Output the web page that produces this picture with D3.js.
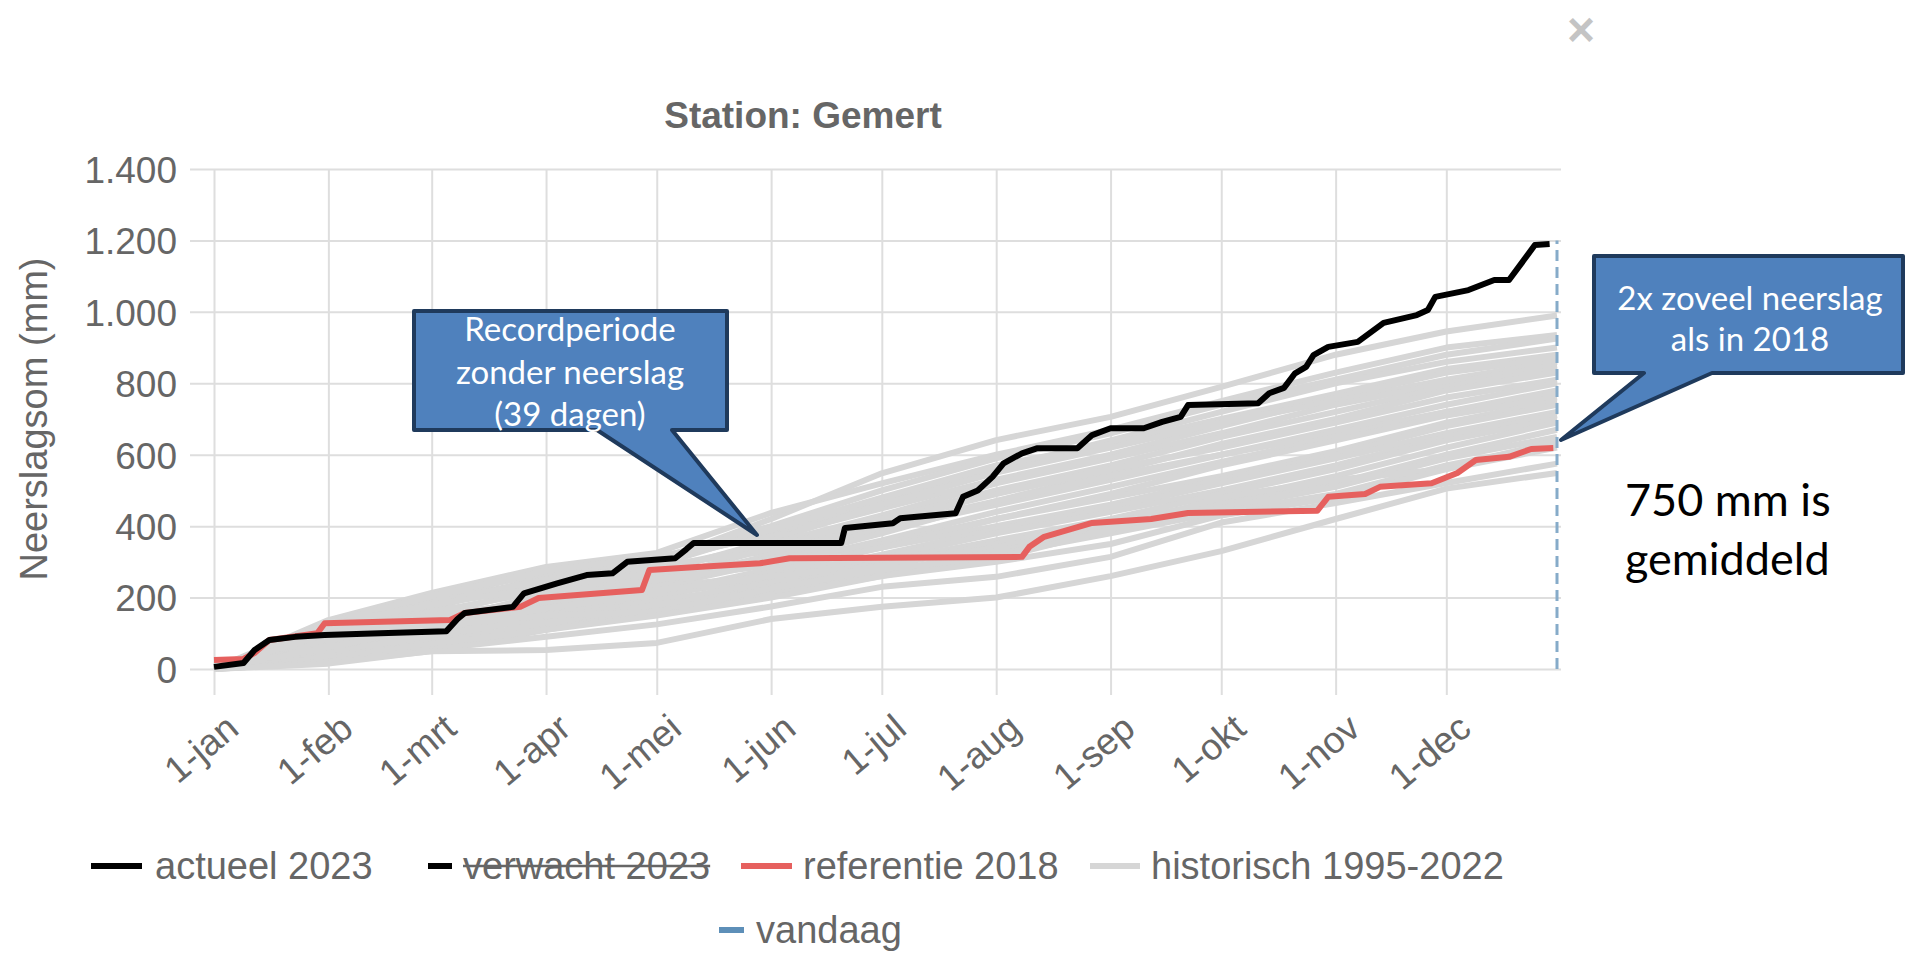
<!DOCTYPE html>
<html lang="nl">
<head>
<meta charset="UTF-8">
<title>Neerslagsom Gemert</title>
<script src="https://d3js.org/d3.v7.min.js"></script>
<style>
  body { margin: 0; background: #ffffff; }
  svg { display: block; }
  .axis text { font-family: "Liberation Sans", Arial, sans-serif; fill: #666; }
  .axis line { stroke: #dedede; stroke-width: 2; }
</style>
</head>
<body>
<svg id="chart" width="1905" height="955"></svg>
<script>
// ---- data ----
const maandDagen = [0, 31, 59, 90, 120, 151, 181, 212, 243, 273, 304, 334];
const maandLabels = ["1-jan", "1-feb", "1-mrt", "1-apr", "1-mei", "1-jun",
                     "1-jul", "1-aug", "1-sep", "1-okt", "1-nov", "1-dec"];
const yTicks = [0, 200, 400, 600, 800, 1000, 1200, 1400];

// [dag van het jaar, neerslagsom mm]
const actueel2023 = [
  [0,6],[8,17],[11,53],[15,81],[22,90],[30,95],[45,100],[63,106],[66,140],[68,157],
  [81,174],[84,212],[93,240],[101,263],[108,268],[112,300],[125,310],[128,335],[130,353],
  [170,353],[171,395],[184,408],[186,422],[201,436],[203,482],[207,500],[211,538],
  [214,576],[219,604],[223,618],[234,618],[238,655],[243,674],[252,674],[257,692],
  [262,706],[264,739],[283,744],[286,772],[290,787],[293,828],[296,846],[298,879],
  [302,902],[310,916],[317,969],[326,991],[329,1005],[331,1042],[340,1061],[347,1089],
  [351,1089],[355,1145],[358,1187],[362,1190]
];

const referentie2018 = [
  [0,25],[8,28],[11,45],[15,81],[28,100],[30,128],[64,137],[68,157],[83,174],[88,199],
  [116,221],[118,277],[132,286],[148,296],[156,310],[219,314],[221,342],[225,370],
  [238,409],[254,420],[264,437],[299,443],[302,482],[312,490],[316,510],[330,520],
  [337,549],[342,585],[351,594],[357,616],[363,619]
];

// historisch 1995-2022: waarden op 1 jan, 1 feb, ..., 1 dec, 31 dec
const historischDagen = [0, 31, 59, 90, 120, 151, 181, 212, 243, 273, 304, 334, 364];
const historisch = [
  [0,120,190,250,300,420,548,641,706,790,880,945,990],
  [0,137,213,286,325,437,520,600,670,750,830,900,935],
  [0, 95,170,260,310,400,500,590,660,740,810,880,925],
  [0,110,200,270,300,380,470,560,640,720,800,860,900],
  [0, 80,150,230,290,390,480,570,630,700,770,840,880],
  [0,130,205,275,315,370,450,530,600,680,760,830,870],
  [0, 60,130,210,270,360,460,550,620,690,750,810,860],
  [0,100,180,240,280,350,430,520,590,660,740,800,850],
  [0, 70,120,200,250,340,420,500,570,650,720,790,840],
  [0,115,185,250,290,330,400,470,550,630,700,780,830],
  [0, 50,110,180,240,320,410,490,560,620,690,760,810],
  [0, 90,160,220,260,310,390,460,530,600,670,740,800],
  [0, 40,100,170,230,300,380,470,540,600,660,720,780],
  [0, 75,140,200,250,290,360,440,510,580,650,720,770],
  [0,125,180,230,270,300,350,420,490,570,640,710,760],
  [0, 55, 90,160,210,280,340,420,480,540,610,690,750],
  [0, 30, 80,150,200,270,340,400,460,530,600,680,740],
  [0, 85,130,190,230,260,320,390,450,520,590,660,720],
  [0, 65,110,170,210,250,310,380,440,500,570,650,710],
  [0, 45, 95,140,190,240,300,360,420,490,560,640,700],
  [0,100,150,190,220,260,290,350,410,470,540,620,690],
  [0, 25, 60,120,170,230,290,340,400,460,520,600,670],
  [0, 35, 70,130,180,220,270,330,390,450,510,590,650],
  [0, 20, 50,110,160,210,260,320,380,440,490,570,632],
  [0, 60,120,150,160,225,280,310,390,480,530,560,640],
  [0, 30, 70,110,150,200,260,300,350,430,480,560,620],
  [0, 20, 55, 90,125,175,230,258,314,410,465,521,575],
  [0, 15, 50, 53, 73,140,174,200,260,330,420,505,549]
];

const vandaag = [[364, 0], [364, 1200]];

const legendItems = ["actueel 2023", "verwacht 2023", "referentie 2018", "historisch 1995-2022", "vandaag"];

// ---- chart ----
const svg = d3.select("#chart");
const font = "'Liberation Sans', Arial, sans-serif";
const calloutFont = "Lato, 'Open Sans', sans-serif";

const x = d3.scaleLinear().domain([0, 364]).range([214, 1557]);
const y = d3.scaleLinear().domain([0, 1400]).range([669, 169]);

const nl = d3.formatLocale({ decimal: ",", thousands: ".", grouping: [3], currency: ["", ""] });
const fmt = nl.format(",");

// y grid + labels
const yAxis = svg.append("g")
  .attr("class", "axis")
  .attr("transform", "translate(190,0)")
  .call(d3.axisLeft(y).tickValues(yTicks).tickFormat(fmt).tickSize(-(1561 - 190)).tickPadding(13));
yAxis.select(".domain").remove();
yAxis.selectAll("text").style("font-size", "37px").attr("dy", "0.36em");

// x grid + labels
const xAxis = svg.append("g")
  .attr("class", "axis")
  .attr("transform", "translate(0,695)")
  .call(d3.axisBottom(x).tickValues(maandDagen).tickSize(-(695 - 169))
    .tickFormat((d, i) => maandLabels[i]));
xAxis.select(".domain").remove();
xAxis.selectAll("text")
  .style("font-size", "37px")
  .attr("text-anchor", "end")
  .attr("x", 0).attr("y", 0)
  .attr("dy", "0.35em")
  .attr("transform", "translate(18,27) rotate(-40)");

// titles
svg.append("text")
  .attr("x", 803).attr("y", 128)
  .attr("text-anchor", "middle")
  .style("font-family", font).style("font-weight", "bold")
  .style("font-size", "37px").style("fill", "#666")
  .text("Station: Gemert");

svg.append("text")
  .attr("transform", "translate(47,419) rotate(-90)")
  .attr("text-anchor", "middle")
  .style("font-family", font).style("font-size", "38px").style("fill", "#666")
  .text("Neerslagsom (mm)");

svg.append("text")
  .attr("x", 1581).attr("y", 46)
  .attr("text-anchor", "middle")
  .style("font-family", font).style("font-weight", "bold")
  .style("font-size", "48px").style("fill", "#c4c4c4")
  .text("×");

// lines
const line = d3.line().x(d => x(d[0])).y(d => y(d[1]));

svg.append("g").selectAll("path")
  .data(historisch)
  .join("path")
  .attr("d", vals => line(vals.map((v, i) => [historischDagen[i], v])))
  .attr("fill", "none")
  .attr("stroke", "#d6d6d6")
  .attr("stroke-width", 6)
  .attr("stroke-linejoin", "round");

svg.append("path")
  .attr("d", line(vandaag))
  .attr("fill", "none")
  .attr("stroke", "#86abc9")
  .attr("stroke-width", 3)
  .attr("stroke-dasharray", "11,6");

svg.append("path")
  .attr("d", line(referentie2018))
  .attr("fill", "none")
  .attr("stroke", "#e6605e")
  .attr("stroke-width", 6)
  .attr("stroke-linejoin", "round");

svg.append("path")
  .attr("d", line(actueel2023))
  .attr("fill", "none")
  .attr("stroke", "#000")
  .attr("stroke-width", 6)
  .attr("stroke-linejoin", "round");

// legend
const legend = [
  { label: legendItems[0], color: "#000",    x0: 91,   x1: 142,  tx: 155,  y: 866, hidden: false },
  { label: legendItems[1], color: "#000",    x0: 428,  x1: 452,  tx: 463,  y: 866, hidden: true },
  { label: legendItems[2], color: "#e6605e", x0: 741,  x1: 792,  tx: 803,  y: 866, hidden: false },
  { label: legendItems[3], color: "#d6d6d6", x0: 1090, x1: 1140, tx: 1151, y: 866, hidden: false },
  { label: legendItems[4], color: "#5d8fb8", x0: 719,  x1: 744,  tx: 756,  y: 930, hidden: false }
];
const lg = svg.append("g").selectAll("g").data(legend).join("g");
lg.append("line")
  .attr("x1", d => d.x0).attr("x2", d => d.x1)
  .attr("y1", d => d.y).attr("y2", d => d.y)
  .attr("stroke", d => d.color).attr("stroke-width", 6);
lg.append("text")
  .attr("x", d => d.tx).attr("y", d => d.y)
  .attr("dy", "0.35em")
  .style("font-family", font).style("font-size", "38px").style("fill", "#666")
  .text(d => d.label);
lg.filter(d => d.hidden).each(function (d) {
  const w = d3.select(this).select("text").node().getComputedTextLength();
  d3.select(this).append("line")
    .attr("x1", d.tx).attr("x2", d.tx + w)
    .attr("y1", d.y).attr("y2", d.y)
    .attr("stroke", "#666").attr("stroke-width", 2.5);
});

// callouts
function callout(points, lines, cx, ys) {
  svg.append("path")
    .attr("d", "M" + points.map(p => p.join(",")).join("L") + "Z")
    .attr("fill", "#4f81bd")
    .attr("stroke", "#1f3a5c")
    .attr("stroke-width", 4)
    .attr("stroke-linejoin", "round");
  lines.forEach((t, i) => {
    svg.append("text")
      .attr("x", cx).attr("y", ys[i])
      .attr("dy", "0.35em")
      .attr("text-anchor", "middle")
      .style("font-family", calloutFont).style("font-size", "33px").style("fill", "#fff")
      .text(t);
  });
}

callout([[414,311],[727,311],[727,430],[672,430],[757,535],[597,430],[414,430]],
  ["Recordperiode", "zonder neerslag", "(39 dagen)"], 570, [329, 372, 414]);

callout([[1594,256],[1903,256],[1903,373],[1712,373],[1561,440],[1644,373],[1594,373]],
  ["2x zoveel neerslag", "als in 2018"], 1750, [298, 339]);

svg.append("text")
  .attr("x", 1625).attr("y", 500).attr("dy", "0.35em")
  .style("font-family", calloutFont).style("font-size", "45px").style("fill", "#000")
  .text("750 mm is");
svg.append("text")
  .attr("x", 1625).attr("y", 559).attr("dy", "0.35em")
  .style("font-family", calloutFont).style("font-size", "45px").style("fill", "#000")
  .text("gemiddeld");
</script>
</body>
</html>
